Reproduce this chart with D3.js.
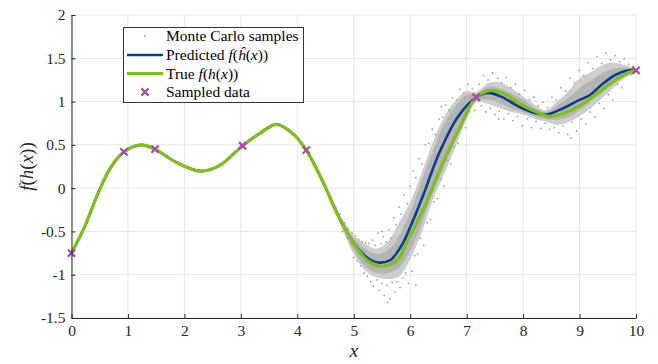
<!DOCTYPE html>
<html>
<head>
<meta charset="utf-8">
<script src="https://cdn.jsdelivr.net/npm/d3@7"></script>
<style>
body { margin: 0; background: #fff; }
svg text { font-family: "Liberation Serif", "Times New Roman", serif; }
</style>
</head>
<body>
<svg id="chart" width="658" height="364"></svg>
<script>
// values
var xTicks = [0, 1, 2, 3, 4, 5, 6, 7, 8, 9, 10];
var yTicks = [-1.5, -1, -0.5, 0, 0.5, 1, 1.5, 2];

var trueX = [0, 0.23, 0.47, 0.70, 0.93, 1.1, 1.25, 1.48, 1.85, 2.28, 2.62, 3.03, 3.33, 3.63, 3.92, 4.16, 4.45, 4.74, 5.04, 5.25, 5.45, 5.65, 5.81, 5.96, 6.28, 6.57, 6.90, 7.17, 7.45, 7.7, 7.93, 8.2, 8.45, 8.7, 9.0, 9.3, 9.64, 9.85, 10];
var trueY = [-0.75, -0.45, -0.06, 0.245, 0.42, 0.48, 0.50, 0.45, 0.30, 0.197, 0.26, 0.49, 0.63, 0.737, 0.63, 0.437, 0.08, -0.34, -0.68, -0.84, -0.90, -0.88, -0.80, -0.60, -0.18, 0.28, 0.73, 1.05, 1.13, 1.08, 0.98, 0.89, 0.83, 0.86, 0.95, 1.09, 1.25, 1.33, 1.36];

var predX = [0, 0.23, 0.47, 0.70, 0.93, 1.1, 1.25, 1.48, 1.85, 2.28, 2.62, 3.03, 3.33, 3.63, 3.92, 4.16, 4.45, 4.74, 5.04, 5.25, 5.45, 5.65, 5.85, 6.0, 6.22, 6.51, 6.84, 7.17, 7.37, 7.6, 7.93, 8.2, 8.42, 8.7, 9.0, 9.17, 9.4, 9.64, 9.85, 10];
var predY = [-0.75, -0.45, -0.06, 0.245, 0.42, 0.48, 0.50, 0.45, 0.30, 0.197, 0.26, 0.49, 0.63, 0.737, 0.63, 0.437, 0.08, -0.34, -0.67, -0.81, -0.86, -0.83, -0.66, -0.45, -0.10, 0.40, 0.82, 1.05, 1.10, 1.06, 0.94, 0.87, 0.85, 0.92, 1.02, 1.07, 1.20, 1.31, 1.36, 1.36];

var sampleX = [0, 0.93, 1.48, 3.03, 4.16, 7.17, 10];
var sampleY = [-0.75, 0.42, 0.45, 0.49, 0.44, 1.05, 1.36];

// Monte Carlo cloud: outer spread and dense core
var bandX  = [4.6, 4.7, 4.8, 5.0, 5.2, 5.4, 5.6, 5.8, 6.0, 6.2, 6.4, 6.6, 6.8, 7.0, 7.17, 7.4, 7.6, 7.8, 8.0, 8.2, 8.4, 8.6, 8.8, 9.0, 9.2, 9.4, 9.6, 9.8, 10];
var bandLo = [-0.16, -0.32, -0.48, -0.76, -0.95, -1.03, -1.05, -1.02, -0.82, -0.52, -0.14, 0.16, 0.47, 0.80, 0.99, 0.97, 0.92, 0.88, 0.85, 0.80, 0.77, 0.73, 0.76, 0.83, 0.92, 1.04, 1.16, 1.27, 1.34];
var bandHi = [-0.12, -0.24, -0.36, -0.54, -0.64, -0.70, -0.62, -0.40, -0.16, 0.17, 0.53, 0.82, 1.01, 1.12, 1.11, 1.22, 1.22, 1.15, 1.06, 0.97, 0.90, 1.00, 1.12, 1.27, 1.34, 1.42, 1.45, 1.42, 1.38];
var coreLo = [-0.15, -0.30, -0.45, -0.72, -0.90, -0.98, -0.98, -0.92, -0.72, -0.42, -0.05, 0.25, 0.55, 0.86, 1.01, 1.02, 0.98, 0.92, 0.88, 0.83, 0.80, 0.79, 0.82, 0.90, 1.00, 1.10, 1.21, 1.30, 1.35];
var coreHi = [-0.13, -0.26, -0.39, -0.58, -0.70, -0.76, -0.72, -0.55, -0.28, 0.08, 0.42, 0.74, 0.95, 1.08, 1.09, 1.17, 1.15, 1.09, 1.02, 0.93, 0.88, 0.95, 1.04, 1.16, 1.24, 1.33, 1.38, 1.39, 1.37];

// scattered samples around the cloud
var mcSamples = [
  [4.60,-0.10],[4.64,-0.19],[4.68,-0.22],[4.72,-0.33],[4.76,-0.30],[4.80,-0.50],[4.84,-0.40],[4.88,-0.58],[4.90,-0.47],[4.94,-0.64],
  [4.97,-0.52],[5.00,-0.80],[5.03,-0.55],[5.06,-0.84],[5.09,-0.60],[5.12,-0.90],[5.15,-0.62],[5.18,-0.98],[5.21,-0.63],[5.24,-1.02],
  [5.27,-0.64],[5.30,-1.08],[5.33,-0.60],[5.35,-1.13],[5.38,-0.66],[5.41,-1.06],[5.43,-0.52],[5.45,-1.18],[5.48,-0.64],[5.50,-1.10],
  [5.52,-0.56],[5.54,-1.24],[5.57,-0.62],[5.59,-1.12],[5.62,-0.48],[5.64,-1.28],[5.66,-0.58],[5.68,-1.09],[5.71,-0.34],[5.73,-1.20],
  [5.75,-0.42],[5.77,-1.08],[5.80,-0.22],[5.82,-1.15],[5.84,-0.30],[5.87,-1.04],[5.89,-0.08],[5.92,-0.98],[5.95,-0.18],[5.97,-1.10],
  [6.00,0.02],[6.03,-0.96],[6.05,0.20],[6.08,-0.78],[6.10,0.12],[6.13,-0.76],[6.16,0.34],[6.18,-0.58],[6.21,0.28],[6.24,-0.66],
  [6.27,0.50],[6.30,-0.40],[6.33,0.52],[6.36,-0.36],[6.39,0.68],[6.42,-0.16],[6.45,0.62],[6.48,-0.12],[6.51,0.80],[6.54,0.10],
  [6.57,0.82],[6.60,0.02],[6.63,0.96],[6.66,0.32],[6.69,0.90],[6.72,0.28],[6.75,1.04],[6.78,0.48],[6.82,1.02],[6.85,0.52],
  [6.88,1.14],[6.91,0.70],[6.95,1.10],[6.98,0.70],[7.02,1.20],[7.05,0.88],[7.10,1.15],[7.14,0.90],[7.22,1.20],[7.26,0.95],
  [7.30,1.30],[7.34,0.88],[7.38,1.25],[7.42,0.92],[7.46,1.33],[7.50,0.85],[7.55,1.27],[7.58,0.89],[7.62,1.22],[7.66,0.80],
  [7.70,1.28],[7.74,0.86],[7.78,1.16],[7.82,0.78],[7.86,1.20],[7.90,0.83],[7.94,1.09],[7.99,0.72],[8.03,1.13],[8.07,0.80],
  [8.11,1.02],[8.15,0.70],[8.19,1.05],[8.23,0.77],[8.27,0.95],[8.31,0.69],[8.35,0.99],[8.39,0.75],[8.43,0.93],[8.47,0.68],
  [8.51,1.05],[8.55,0.70],[8.59,1.02],[8.63,0.64],[8.67,1.16],[8.71,0.72],[8.75,1.12],[8.79,0.62],[8.83,1.27],[8.87,0.76],
  [8.91,1.22],[8.95,0.66],[8.99,1.36],[9.03,0.80],[9.07,1.30],[9.11,0.74],[9.15,1.45],[9.19,0.88],[9.23,1.38],[9.27,0.82],
  [9.31,1.52],[9.35,0.98],[9.39,1.44],[9.43,0.92],[9.47,1.56],[9.51,1.08],[9.55,1.48],[9.59,1.02],[9.63,1.53],[9.67,1.20],
  [9.71,1.46],[9.75,1.16],[9.79,1.49],[9.83,1.30],[9.87,1.43],[9.91,1.31],[9.95,1.41],
  [8.85,0.58],[6.10,-1.12],[5.60,-1.32],[7.57,0.80],[5.50,-0.50],[6.55,0.94]
];

var svg = d3.select("#chart");

var x = d3.scaleLinear().domain([0, 10]).range([71.5, 636]);
var y = d3.scaleLinear().domain([-1.5, 2]).range([318, 15]);

// grid
svg.append("g").selectAll("line").data(xTicks).join("line")
    .attr("x1", d => x(d)).attr("x2", d => x(d))
    .attr("y1", y(-1.5)).attr("y2", y(2))
    .attr("stroke", "#e6e6e6").attr("stroke-width", 1);
svg.append("g").selectAll("line").data(yTicks).join("line")
    .attr("x1", x(0)).attr("x2", x(10))
    .attr("y1", d => y(d)).attr("y2", d => y(d))
    .attr("stroke", "#e6e6e6").attr("stroke-width", 1);

// Monte Carlo cloud
var band = d3.area()
    .x(d => x(d.x))
    .y0(d => y(d.lo))
    .y1(d => y(d.hi))
    .curve(d3.curveCatmullRom);
svg.append("path")
    .attr("d", band(bandX.map((d, i) => ({x: d, lo: bandLo[i], hi: bandHi[i]}))))
    .attr("fill", "#cdcdcd");
svg.append("path")
    .attr("d", band(bandX.map((d, i) => ({x: d, lo: coreLo[i], hi: coreHi[i]}))))
    .attr("fill", "#b4b4b4");

svg.append("g").selectAll("circle").data(mcSamples).join("circle")
    .attr("cx", d => x(d[0]))
    .attr("cy", d => y(d[1]))
    .attr("r", 0.9)
    .attr("fill", "#a0a0a0");

// curves
var line = d3.line()
    .x(d => x(d[0]))
    .y(d => y(d[1]))
    .curve(d3.curveCatmullRom);

svg.append("path")
    .attr("d", line(predX.map((d, i) => [d, predY[i]])))
    .attr("fill", "none")
    .attr("stroke", "#0b3d91")
    .attr("stroke-width", 2.6);

svg.append("path")
    .attr("d", line(trueX.map((d, i) => [d, trueY[i]])))
    .attr("fill", "none")
    .attr("stroke", "#7fbf1a")
    .attr("stroke-width", 3.2);

// sampled points
var cross = d3.symbol().type(d3.symbolX).size(36);
svg.append("g").selectAll("path").data(sampleX).join("path")
    .attr("transform", (d, i) => `translate(${x(d)},${y(sampleY[i])})`)
    .attr("d", cross)
    .attr("fill", "none")
    .attr("stroke", "#a64ca6")
    .attr("stroke-width", 2.2);

// axes, ticks pointing inward
var xAxis = svg.append("g")
    .attr("transform", `translate(0,${y(-1.5)})`)
    .call(d3.axisBottom(x).tickValues(xTicks).tickFormat(d => String(d))
        .tickSizeInner(-4).tickSizeOuter(0).tickPadding(7));
var yAxis = svg.append("g")
    .attr("transform", `translate(${x(0)},0)`)
    .call(d3.axisLeft(y).tickValues(yTicks).tickFormat(d => String(d))
        .tickSizeInner(-4).tickSizeOuter(0).tickPadding(6));

[xAxis, yAxis].forEach(a => {
  a.attr("font-family", null).attr("font-size", null);
  a.select(".domain").attr("stroke", "#262626");
  a.selectAll(".tick line").attr("stroke", "#262626");
  a.selectAll(".tick text")
      .attr("fill", "#262626")
      .style("font-size", "15.5px");
});

svg.append("text")
    .attr("x", 354).attr("y", 357)
    .attr("text-anchor", "middle")
    .style("font-size", "19px").style("font-style", "italic")
    .attr("fill", "#262626")
    .text("x");

var yl = svg.append("text")
    .attr("transform", "translate(33,166.5) rotate(-90)")
    .attr("text-anchor", "middle")
    .style("font-size", "19px")
    .attr("fill", "#262626");
yl.append("tspan").style("font-style", "italic").text("f");
yl.append("tspan").text("(");
yl.append("tspan").style("font-style", "italic").text("h");
yl.append("tspan").text("(");
yl.append("tspan").style("font-style", "italic").text("x");
yl.append("tspan").text("))");

// legend
var lg = svg.append("g");
lg.append("rect")
    .attr("x", 123.5).attr("y", 27.5)
    .attr("width", 180).attr("height", 75)
    .attr("fill", "#fff")
    .attr("stroke", "#333").attr("stroke-width", 1);

var rows = [36, 55, 73.5, 92];
lg.append("circle").attr("cx", 145).attr("cy", rows[0]).attr("r", 0.9).attr("fill", "#9c9c9c");
lg.append("line").attr("x1", 127).attr("x2", 163).attr("y1", rows[1]).attr("y2", rows[1])
    .attr("stroke", "#0b3d91").attr("stroke-width", 2.6);
lg.append("line").attr("x1", 127).attr("x2", 163).attr("y1", rows[2]).attr("y2", rows[2])
    .attr("stroke", "#7fbf1a").attr("stroke-width", 3.2);
lg.append("path").attr("transform", `translate(145,${rows[3]})`).attr("d", cross)
    .attr("fill", "none").attr("stroke", "#a64ca6").attr("stroke-width", 2.2);

function legendText(row) {
  return lg.append("text").attr("x", 166).attr("y", row + 5)
      .style("font-size", "15.5px").attr("fill", "#000");
}
legendText(rows[0]).text("Monte Carlo samples");
var t1 = legendText(rows[1]);
t1.append("tspan").text("Predicted ");
t1.append("tspan").style("font-style", "italic").text("f");
t1.append("tspan").text("(");
t1.append("tspan").style("font-style", "italic").text("\u0125");
t1.append("tspan").text("(");
t1.append("tspan").style("font-style", "italic").text("x");
t1.append("tspan").text("))");
var t2 = legendText(rows[2]);
t2.append("tspan").text("True ");
t2.append("tspan").style("font-style", "italic").text("f");
t2.append("tspan").text("(");
t2.append("tspan").style("font-style", "italic").text("h");
t2.append("tspan").text("(");
t2.append("tspan").style("font-style", "italic").text("x");
t2.append("tspan").text("))");
legendText(rows[3]).text("Sampled data");
</script>
</body>
</html>
